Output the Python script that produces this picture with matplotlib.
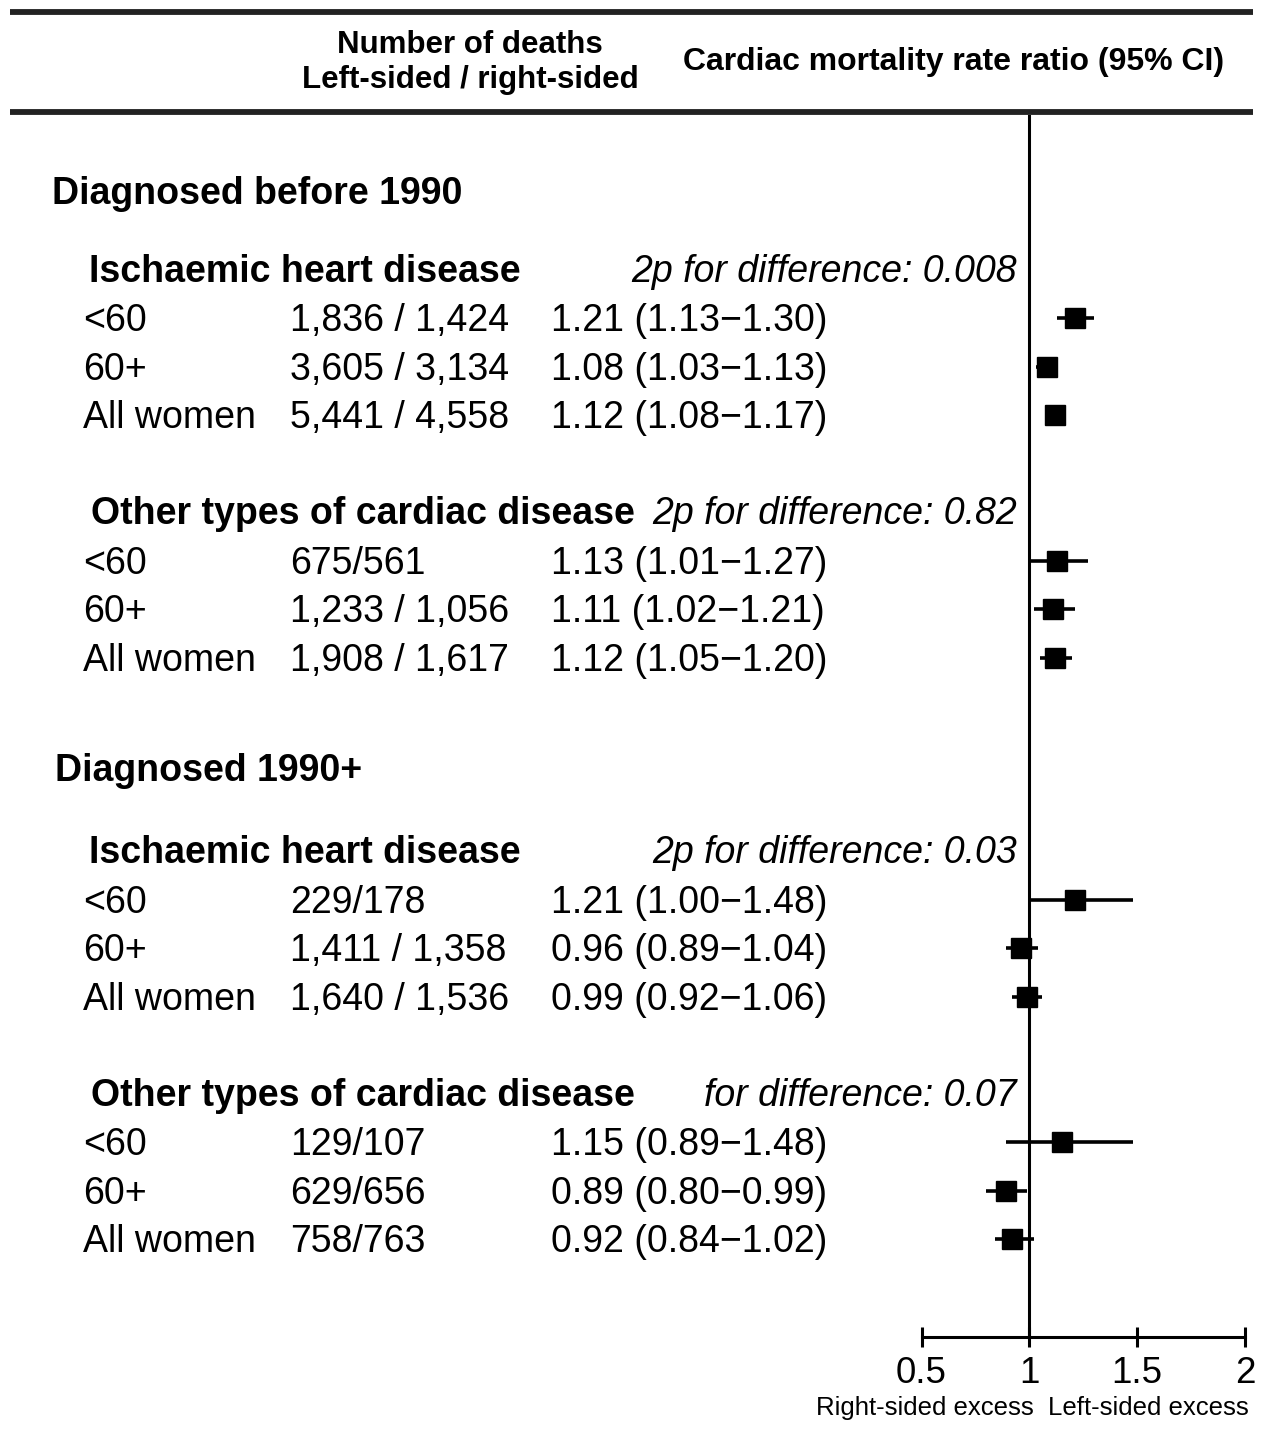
import matplotlib
matplotlib.use("Agg")
import matplotlib.pyplot as plt

plt.rcParams['font.family'] = ['Liberation Sans', 'DejaVu Sans']

# --- data ---
periods = ["Diagnosed before 1990", "Diagnosed 1990+"]
outcomes = ["Ischaemic heart disease", "Other types of cardiac disease"]
age_groups = ["<60", "60+", "All women"]

deaths = [
    ["1,836 / 1,424", "3,605 / 3,134", "5,441 / 4,558"],
    ["675/561", "1,233 / 1,056", "1,908 / 1,617"],
    ["229/178", "1,411 / 1,358", "1,640 / 1,536"],
    ["129/107", "629/656", "758/763"],
]
rr = [
    [1.21, 1.08, 1.12],
    [1.13, 1.11, 1.12],
    [1.21, 0.96, 0.99],
    [1.15, 0.89, 0.92],
]
ci_low = [
    [1.13, 1.03, 1.08],
    [1.01, 1.02, 1.05],
    [1.00, 0.89, 0.92],
    [0.89, 0.80, 0.84],
]
ci_high = [
    [1.30, 1.13, 1.17],
    [1.27, 1.21, 1.20],
    [1.48, 1.04, 1.06],
    [1.48, 0.99, 1.02],
]
p_labels = [
    "2p for difference: 0.008",
    "2p for difference: 0.82",
    "2p for difference: 0.03",
    "for difference: 0.07",
]
xticks = [0.5, 1, 1.5, 2]

W, H = 1261, 1452
fig = plt.figure(figsize=(W / 100, H / 100), dpi=100)

# full-figure axes in pixel coordinates for the table text
ax = fig.add_axes([0, 0, 1, 1])
ax.set_xlim(0, W)
ax.set_ylim(H, 0)
ax.axis('off')

# forest axes: x from 0.5 (px 921) to 2 (px 1245), y spans px 115..1337
fx0, fx1 = 921.5, 1245
fy0, fy1 = 115, 1337
fax = fig.add_axes([fx0 / W, 1 - fy1 / H, (fx1 - fx0) / W, (fy1 - fy0) / H])
fax.patch.set_alpha(0)
fax.set_xlim(0.5, 2)
fax.set_ylim(fy1, fy0)
for s in ['top', 'right', 'left']:
    fax.spines[s].set_visible(False)
fax.spines['bottom'].set_linewidth(2.2)
fax.set_yticks([])
fax.set_xticks(xticks)
fax.set_xticklabels(["0.5", "1", "1.5", "2"], fontsize=26.5)
fax.tick_params(axis='x', direction='inout', length=15, width=2.2, pad=6)
fax.axvline(1, color='black', lw=2.2)

# header
ax.plot([10, 1253], [12, 12], color='#222222', lw=4.2, solid_capstyle='butt')
ax.plot([10, 1253], [112, 112], color='#222222', lw=4.2, solid_capstyle='butt')
ax.text(470, 45, "Number of deaths", ha='center', va='center', fontsize=22.5, fontweight='bold')
ax.text(470, 80, "Left-sided / right-sided", ha='center', va='center', fontsize=22.5, fontweight='bold')
ax.text(683, 62, "Cardiac mortality rate ratio (95% CI)", ha='left', va='center',
        fontsize=23, fontweight='bold')

fs = 27
step = 48.45
base = 270
k = 0
for pi, period in enumerate(periods):
    ytitle = base + step * (-1.6 if pi == 0 else 10.3)
    ax.text(52 if pi == 0 else 55, ytitle + 12, period, ha='left', va='baseline',
            fontsize=fs, fontweight='bold')
    for oi, outcome in enumerate(outcomes):
        row = [0, 5, 12, 17][k]
        yh = base + step * row
        ax.text(89 if oi == 0 else 91, yh + 12, outcome, ha='left', va='baseline',
                fontsize=fs, fontweight='bold')
        ax.text(1017, yh + 12, p_labels[k], ha='right', va='baseline',
                fontsize=fs, style='italic')
        for j, age in enumerate(age_groups):
            y = base + step * (row + 1 + j)
            ax.text(83, y + 13, age, ha='left', va='baseline', fontsize=fs)
            ax.text(290, y + 13, deaths[k][j], ha='left', va='baseline', fontsize=fs)
            ci_txt = f"{rr[k][j]:.2f} ({ci_low[k][j]:.2f}\u2212{ci_high[k][j]:.2f})"
            ax.text(551, y + 13, ci_txt, ha='left', va='baseline', fontsize=fs)
            fax.plot([ci_low[k][j], ci_high[k][j]], [y, y], color='black', lw=2.6,
                     solid_capstyle='butt', clip_on=False)
            fax.plot(rr[k][j], y, marker='s', color='black', markersize=15, clip_on=False)
        k += 1

ax.text(1034, 1408, "Right-sided excess", ha='right', va='center', fontsize=18.5)
ax.text(1048, 1408, "Left-sided excess", ha='left', va='center', fontsize=18.5)

fig.savefig("out.png", dpi=100)
